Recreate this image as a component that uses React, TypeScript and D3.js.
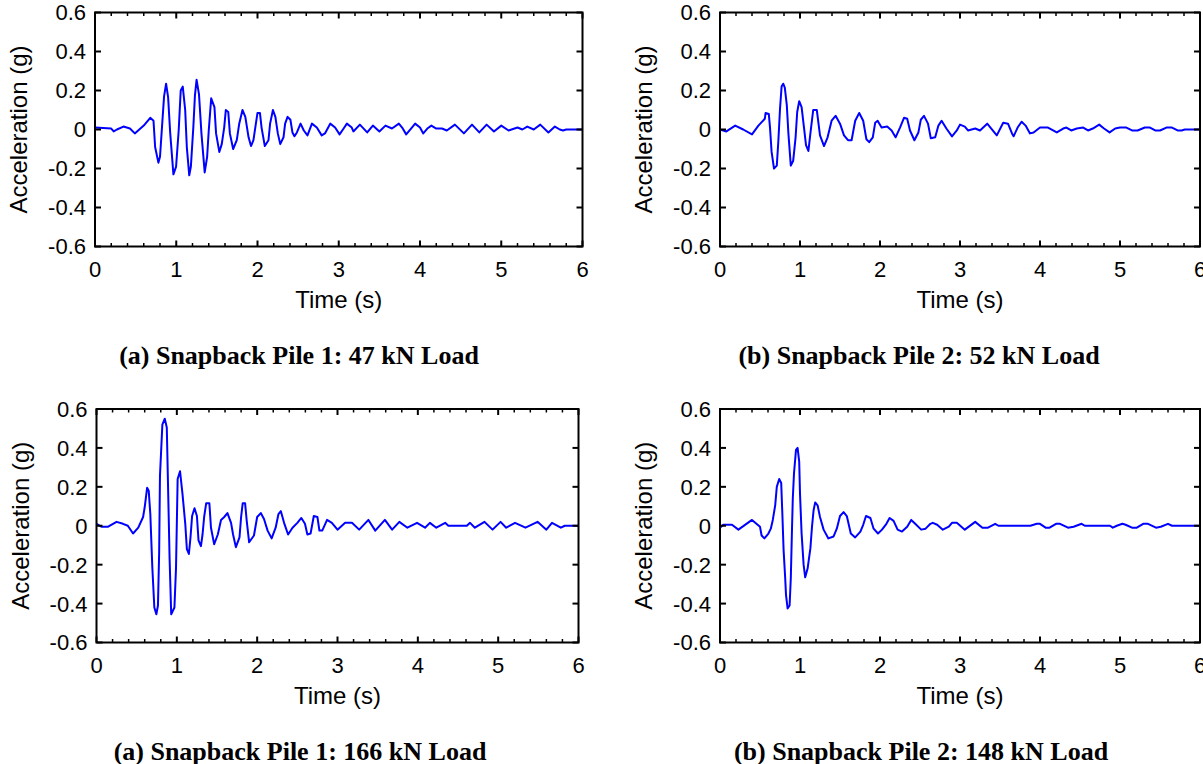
import * as d3 from 'd3';

// acceleration records, [time (s), acceleration (g)]
const pile1Load47: [number, number][] = [
  [0, 0.01], [0.2, 0.005], [0.23, -0.01], [0.27, 0], [0.35, 0.015], [0.43, 0.005], [0.49, -0.02],
  [0.6, 0.02], [0.68, 0.06], [0.72, 0.045], [0.74, -0.09], [0.78, -0.17], [0.8, -0.14],
  [0.85, 0.17], [0.875, 0.235], [0.9, 0.165], [0.925, -0.015], [0.965, -0.23], [0.998, -0.19],
  [1.03, -0.005], [1.055, 0.2], [1.08, 0.22], [1.11, 0.1], [1.13, -0.09], [1.16, -0.235],
  [1.18, -0.19], [1.21, 0.01], [1.23, 0.175], [1.25, 0.255], [1.28, 0.18], [1.31, -0.02],
  [1.35, -0.22], [1.38, -0.14], [1.4, -0.005], [1.43, 0.16], [1.47, 0.115], [1.49, -0.02],
  [1.53, -0.115], [1.56, -0.075], [1.59, 0.01], [1.61, 0.1], [1.64, 0.09], [1.66, -0.02],
  [1.7, -0.1], [1.745, -0.055], [1.775, 0.03], [1.815, 0.1], [1.85, 0.065], [1.89, -0.04],
  [1.92, -0.085], [1.95, -0.055], [1.98, 0.03], [2.0, 0.085], [2.03, 0.085], [2.05, 0.01],
  [2.09, -0.085], [2.135, -0.055], [2.155, 0.03], [2.19, 0.1], [2.22, 0.065], [2.25, -0.02],
  [2.28, -0.075], [2.32, -0.04], [2.34, 0.03], [2.37, 0.065], [2.405, 0.05], [2.43, -0.015],
  [2.455, -0.035], [2.485, -0.015], [2.53, 0.03], [2.57, -0.005], [2.615, -0.03], [2.67, 0.03],
  [2.73, 0.01], [2.79, -0.03], [2.83, -0.02], [2.895, 0.03], [2.955, 0.01], [3.01, -0.025],
  [3.06, 0.005], [3.1, 0.03], [3.16, 0.01], [3.18, -0.01], [3.26, 0.025], [3.35, -0.015],
  [3.42, 0.02], [3.5, -0.01], [3.575, 0.02], [3.655, 0.005], [3.74, 0.03], [3.78, 0.01],
  [3.83, -0.025], [3.9, 0.01], [3.94, 0.03], [4.0, 0.01], [4.04, -0.02], [4.09, 0.005],
  [4.14, 0.02], [4.2, 0.005], [4.27, 0.005], [4.33, -0.005], [4.43, 0.025], [4.54, -0.02],
  [4.64, 0.025], [4.73, -0.015], [4.82, 0.025], [4.91, -0.01], [5.0, 0.02], [5.09, -0.005],
  [5.2, 0.01], [5.26, 0], [5.32, 0.015], [5.4, 0], [5.48, 0.025], [5.58, -0.015], [5.66, 0.015],
  [5.72, 0], [5.76, -0.005], [5.8, 0], [6.0, 0],
];

const pile2Load52: [number, number][] = [
  [0, 0], [0.08, -0.01], [0.19, 0.02], [0.29, 0], [0.4, -0.025], [0.48, 0.02], [0.56, 0.055],
  [0.57, 0.085], [0.61, 0.08], [0.625, 0.01], [0.645, -0.115], [0.675, -0.2], [0.71, -0.185],
  [0.73, -0.055], [0.75, 0.105], [0.77, 0.22], [0.79, 0.235], [0.81, 0.215], [0.835, 0.125],
  [0.855, -0.02], [0.885, -0.185], [0.915, -0.16], [0.945, -0.04], [0.965, 0.09], [0.99, 0.145],
  [1.02, 0.115], [1.05, 0.01], [1.075, -0.08], [1.105, -0.11], [1.13, -0.02], [1.165, 0.1],
  [1.21, 0.1], [1.25, -0.03], [1.3, -0.085], [1.345, -0.04], [1.395, 0.045], [1.445, 0.07],
  [1.5, 0.03], [1.55, -0.03], [1.6, -0.055], [1.645, -0.055], [1.69, 0.045], [1.74, 0.085],
  [1.79, 0.045], [1.83, -0.05], [1.865, -0.065], [1.91, -0.04], [1.94, 0.035], [1.97, 0.045],
  [2.02, 0.01], [2.09, 0.015], [2.145, -0.005], [2.195, -0.04], [2.25, 0.01], [2.3, 0.06],
  [2.34, 0.055], [2.375, -0.005], [2.43, -0.055], [2.48, -0.015], [2.51, 0.05], [2.55, 0.07],
  [2.6, 0.03], [2.635, -0.045], [2.69, -0.04], [2.73, 0.02], [2.77, 0.045], [2.83, 0.005],
  [2.9, -0.035], [2.96, -0.005], [3.0, 0.025], [3.06, 0.015], [3.1, -0.005], [3.19, 0.005],
  [3.25, -0.005], [3.34, 0.03], [3.46, -0.03], [3.54, 0.035], [3.6, 0.03], [3.65, -0.02],
  [3.67, -0.035], [3.72, 0.01], [3.77, 0.04], [3.82, 0.02], [3.875, -0.02], [3.92, -0.015],
  [4.0, 0.01], [4.1, 0.01], [4.21, -0.015], [4.29, 0.005], [4.33, 0.01], [4.39, -0.005],
  [4.46, 0.005], [4.54, 0.01], [4.6, -0.005], [4.66, 0.005], [4.74, 0.025], [4.8, 0.005],
  [4.87, -0.015], [4.94, 0.005], [5.0, 0.01], [5.08, 0.01], [5.15, -0.005], [5.22, -0.005],
  [5.31, 0.01], [5.375, 0.01], [5.44, -0.005], [5.5, -0.005], [5.58, 0.01], [5.65, 0.01],
  [5.72, -0.005], [5.77, -0.005], [5.81, 0], [6.0, 0],
];

const pile1Load166: [number, number][] = [
  [0, 0.01], [0.06, -0.005], [0.145, -0.005], [0.25, 0.02], [0.33, 0.01], [0.39, 0],
  [0.455, -0.04], [0.52, -0.01], [0.58, 0.045], [0.6, 0.095], [0.63, 0.195], [0.65, 0.18],
  [0.67, 0.06], [0.695, -0.215], [0.72, -0.42], [0.745, -0.455], [0.765, -0.41], [0.78, -0.135],
  [0.79, 0.255], [0.82, 0.52], [0.85, 0.55], [0.875, 0.505], [0.89, 0.215], [0.91, -0.17],
  [0.93, -0.455], [0.97, -0.42], [0.99, -0.215], [1.01, 0.24], [1.04, 0.28], [1.07, 0.165],
  [1.105, 0.01], [1.125, -0.12], [1.15, -0.145], [1.17, -0.06], [1.19, 0.05], [1.22, 0.09],
  [1.25, 0.05], [1.27, -0.075], [1.3, -0.105], [1.32, -0.045], [1.34, 0.045], [1.365, 0.115],
  [1.405, 0.115], [1.425, -0.01], [1.465, -0.095], [1.51, -0.045], [1.55, 0.03], [1.59, 0.045],
  [1.63, 0.065], [1.675, 0.015], [1.7, -0.045], [1.735, -0.11], [1.78, -0.06], [1.8, 0.045],
  [1.82, 0.115], [1.85, 0.115], [1.87, 0.025], [1.9, -0.085], [1.96, -0.05], [2.0, 0.045],
  [2.045, 0.065], [2.085, 0.035], [2.13, -0.025], [2.18, -0.065], [2.23, -0.01], [2.265, 0.06],
  [2.295, 0.075], [2.335, 0.015], [2.385, -0.045], [2.44, -0.01], [2.5, 0.015], [2.55, 0.04],
  [2.595, 0.01], [2.625, -0.045], [2.665, -0.04], [2.705, 0.05], [2.75, 0.045], [2.775, -0.025],
  [2.81, -0.025], [2.87, 0.03], [2.93, 0.015], [3.0, -0.02], [3.095, 0.015], [3.18, 0.015],
  [3.27, -0.02], [3.385, 0.03], [3.47, -0.025], [3.59, 0.03], [3.68, -0.02], [3.77, 0.02],
  [3.87, -0.01], [3.99, 0.015], [4.09, -0.01], [4.15, 0.015], [4.23, -0.01], [4.34, 0.015],
  [4.38, 0], [4.61, 0], [4.65, 0.015], [4.71, -0.01], [4.83, 0.02], [4.93, -0.02], [5.03, 0.02],
  [5.1, -0.01], [5.21, 0.015], [5.34, -0.01], [5.49, 0.02], [5.6, -0.02], [5.67, 0.015],
  [5.78, -0.01], [5.83, 0], [6.0, 0],
];

const pile2Load148: [number, number][] = [
  [0, -0.01], [0.04, 0.005], [0.15, 0.005], [0.23, -0.02], [0.4, 0.03], [0.5, -0.005],
  [0.52, -0.05], [0.555, -0.065], [0.605, -0.04], [0.635, -0.015], [0.66, 0.03], [0.69, 0.105],
  [0.71, 0.2], [0.74, 0.24], [0.765, 0.22], [0.78, 0.055], [0.795, -0.125], [0.815, -0.27],
  [0.825, -0.355], [0.845, -0.425], [0.87, -0.41], [0.885, -0.27], [0.9, -0.015], [0.91, 0.14],
  [0.925, 0.27], [0.95, 0.39], [0.97, 0.4], [0.99, 0.33], [1.0, 0.165], [1.02, -0.04],
  [1.045, -0.2], [1.065, -0.265], [1.095, -0.22], [1.13, -0.115], [1.15, -0.005], [1.17, 0.08],
  [1.19, 0.12], [1.22, 0.105], [1.25, 0.045], [1.295, -0.02], [1.355, -0.065], [1.42, -0.055],
  [1.46, -0.015], [1.5, 0.05], [1.545, 0.07], [1.585, 0.05], [1.635, -0.04], [1.69, -0.06],
  [1.755, -0.03], [1.79, 0.005], [1.825, 0.05], [1.88, 0.04], [1.92, -0.015], [1.975, -0.04],
  [2.025, -0.02], [2.08, 0.01], [2.12, 0.04], [2.17, 0.025], [2.22, -0.02], [2.275, -0.03],
  [2.34, -0.005], [2.39, 0.03], [2.44, 0.01], [2.515, -0.02], [2.57, -0.015], [2.63, 0.01],
  [2.66, 0.015], [2.715, 0.005], [2.785, -0.02], [2.86, -0.005], [2.9, 0.015], [2.96, 0.015],
  [3.06, -0.02], [3.19, 0.02], [3.28, -0.01], [3.35, -0.01], [3.44, 0.01], [3.48, 0],
  [3.88, 0], [3.96, 0.01], [4.0, 0.01], [4.07, -0.01], [4.12, -0.01], [4.2, 0.01], [4.25, 0.01],
  [4.35, -0.01], [4.42, -0.005], [4.52, 0.01], [4.56, 0], [4.875, 0], [4.91, -0.01], [4.96, 0],
  [5.03, 0.01], [5.07, 0.005], [5.15, -0.01], [5.21, -0.01], [5.29, 0.01], [5.35, 0.01],
  [5.45, -0.01], [5.51, -0.005], [5.6, 0.01], [5.65, 0], [6.0, 0],
];

const captions = [
  '(a) Snapback Pile 1: 47 kN Load',
  '(b) Snapback Pile 2: 52 kN Load',
  '(a) Snapback Pile 1: 166 kN Load',
  '(b) Snapback Pile 2: 148 kN Load',
];

const xTicks = [0, 1, 2, 3, 4, 5, 6];
const yTicks = [-0.6, -0.4, -0.2, 0, 0.2, 0.4, 0.6];
const xLabel = 'Time (s)';
const yLabel = 'Acceleration (g)';

// frame of each panel in page pixels
const frames = [
  { left: 95, right: 582.5, top: 12.5, bottom: 246.5, capX: 299 },
  { left: 720, right: 1200, top: 12.5, bottom: 246.5, capX: 919 },
  { left: 96.5, right: 578.5, top: 409, bottom: 642.5, capX: 300 },
  { left: 720, right: 1200, top: 409, bottom: 642.5, capX: 921 },
];
const records = [pile1Load47, pile2Load52, pile1Load166, pile2Load148];

const sans = 'Arial, "Liberation Sans", Helvetica, sans-serif';
const serif = '"Times New Roman", "Liberation Serif", Times, serif';

function Panel({ data, f, caption }: { data: [number, number][]; f: typeof frames[0]; caption: string }) {
  const x = d3.scaleLinear().domain([0, 6]).range([f.left, f.right]);
  const y = d3.scaleLinear().domain([-0.6, 0.6]).range([f.bottom, f.top]);
  const line = d3.line<[number, number]>().x(d => x(d[0])).y(d => y(d[1]));
  const minor = d3.range(0, 31).map(i => i / 5).filter(t => !xTicks.includes(t));
  const fmt = (v: number) => (v === 0 ? '0' : v.toFixed(1));

  return (
    <g>
      <path d={line(data) ?? ''} fill="none" stroke="#0000ff" strokeWidth={2} strokeLinejoin="round" />
      {xTicks.map(t => (
        <g key={'M' + t}>
          <line x1={x(t)} x2={x(t)} y1={f.bottom} y2={f.bottom - 6} stroke="#000" strokeWidth={2} />
          <line x1={x(t)} x2={x(t)} y1={f.top} y2={f.top + 6} stroke="#000" strokeWidth={2} />
          <text x={x(t)} y={f.bottom + 30} textAnchor="middle" fontFamily={sans} fontSize={22} fill="#000">
            {t}
          </text>
        </g>
      ))}
      {minor.map(t => (
        <g key={'m' + t}>
          <line x1={x(t)} x2={x(t)} y1={f.bottom} y2={f.bottom - 3.5} stroke="#000" strokeWidth={1.5} />
          <line x1={x(t)} x2={x(t)} y1={f.top} y2={f.top + 3.5} stroke="#000" strokeWidth={1.5} />
        </g>
      ))}
      {yTicks.map(v => (
        <g key={'y' + v}>
          <line x1={f.left} x2={f.left + 6} y1={y(v)} y2={y(v)} stroke="#000" strokeWidth={2} />
          <line x1={f.right} x2={f.right - 6} y1={y(v)} y2={y(v)} stroke="#000" strokeWidth={2} />
          <text x={f.left - 9} y={y(v)} dy="0.36em" textAnchor="end" fontFamily={sans} fontSize={22} fill="#000">
            {fmt(v)}
          </text>
        </g>
      ))}
      <rect x={f.left} y={f.top} width={f.right - f.left} height={f.bottom - f.top} fill="none" stroke="#000" strokeWidth={2} />
      <text x={(f.left + f.right) / 2} y={f.bottom + 61} textAnchor="middle" fontFamily={sans} fontSize={24} fill="#000">
        {xLabel}
      </text>
      <text
        transform={`translate(${f.left - 68},${(f.top + f.bottom) / 2}) rotate(-90)`}
        textAnchor="middle"
        fontFamily={sans}
        fontSize={24}
        fill="#000"
      >
        {yLabel}
      </text>
      <text x={f.capX} y={f.bottom + 117} textAnchor="middle" fontFamily={serif} fontWeight="bold" fontSize={26} fill="#000">
        {caption}
      </text>
    </g>
  );
}

export default function App() {
  return (
    <svg width={1203} height={764} style={{ position: 'absolute', left: 0, top: 0, background: '#fff' }}>
      <rect width={1203} height={764} fill="#fff" />
      {records.map((r, i) => (
        <Panel key={i} data={r} f={frames[i]} caption={captions[i]} />
      ))}
    </svg>
  );
}
